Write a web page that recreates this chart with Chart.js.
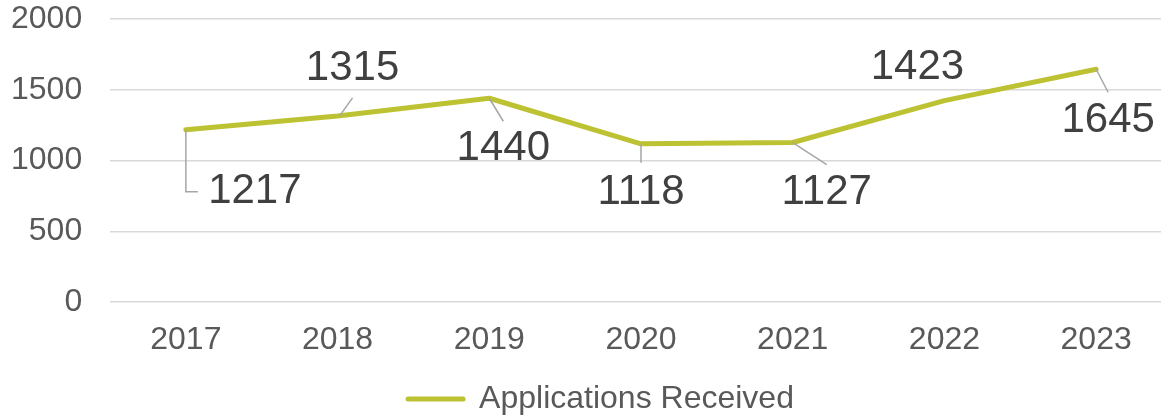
<!DOCTYPE html>
<html>
<head>
<meta charset="utf-8">
<script src="https://cdn.jsdelivr.net/npm/chart.js@4/dist/chart.umd.min.js"></script>
<style>
  html, body { margin: 0; padding: 0; background: #fff; overflow: hidden; width: 1161px; height: 417px; }
  #wrap { width: 1172px; height: 417px; }
</style>
</head>
<body>
<div id="wrap"><canvas id="c" width="1172" height="417"></canvas></div>
<script>
const categories = ['2017', '2018', '2019', '2020', '2021', '2022', '2023'];
const applicationsReceived = [1217, 1315, 1440, 1118, 1127, 1423, 1645];
const seriesName = 'Applications Received';
const yTicks = [0, 500, 1000, 1500, 2000];

const FONT = '"Liberation Sans", Arial, Helvetica, sans-serif';
const LINE_COLOR = '#BDC233';

// label placement style (offsets from each point, in px)
const labelStyle = [
  { dx: 69, dy: 62, leader: [[0, 0], [0, 62], [12, 62]] },
  { dx: 15, dy: -48, leader: [[2, 0], [15, -18]] },
  { dx: 14, dy: 50, leader: [[0, 0], [14, 23]] },
  { dx: 0, dy: 49, leader: [[0, 0], [0, 19]] },
  { dx: 34, dy: 50, leader: [[0, 0], [34, 22]] },
  { dx: -27, dy: -33, leader: null },
  { dx: 12, dy: 51, leader: [[0, 0], [12, 23]] }
];

const dataLabelPlugin = {
  id: 'dataLabels',
  afterDatasetsDraw(chart) {
    const ctx = chart.ctx;
    const meta = chart.getDatasetMeta(0);
    const vals = chart.data.datasets[0].data;
    ctx.save();
    meta.data.forEach((pt, i) => {
      const s = labelStyle[i];
      if (s.leader) {
        ctx.beginPath();
        ctx.strokeStyle = '#A6A6A6';
        ctx.lineWidth = 1.5;
        s.leader.forEach((p, j) => {
          if (j === 0) ctx.moveTo(pt.x + p[0], pt.y + p[1]);
          else ctx.lineTo(pt.x + p[0], pt.y + p[1]);
        });
        ctx.stroke();
      }
      ctx.fillStyle = '#404040';
      ctx.font = '42px ' + FONT;
      ctx.textAlign = 'center';
      ctx.textBaseline = 'middle';
      ctx.fillText(String(vals[i]), pt.x + s.dx, pt.y + s.dy);
    });
    ctx.restore();
  }
};

new Chart(document.getElementById('c'), {
  type: 'line',
  data: {
    labels: categories,
    datasets: [{
      label: seriesName,
      data: applicationsReceived,
      borderColor: LINE_COLOR,
      backgroundColor: LINE_COLOR,
      borderWidth: 5,
      borderCapStyle: 'round',
      borderJoinStyle: 'round',
      pointRadius: 0,
      pointHoverRadius: 0,
      tension: 0,
      fill: false
    }]
  },
  options: {
    responsive: false,
    devicePixelRatio: 1,
    animation: false,
    events: [],
    layout: { padding: { top: 19, right: 0, bottom: -8, left: 30 } },
    scales: {
      x: {
        offset: true,
        grid: { display: false, drawTicks: false },
        border: { display: false },
        afterFit(scale) { scale.height = 81; scale.paddingLeft = 0; scale.paddingRight = 0; },
        ticks: { color: '#595959', font: { family: FONT, size: 32 }, padding: 19 }
      },
      y: {
        min: 0,
        max: 2000,
        afterBuildTicks(scale) { scale.ticks = yTicks.map(v => ({ value: v })); },
        afterFit(scale) { scale.width = 80; scale.paddingTop = 0; scale.paddingBottom = 0; },
        grid: { color: '#D9D9D9', lineWidth: 1.5, drawTicks: false },
        border: { display: false },
        ticks: {
          color: '#595959', font: { family: FONT, size: 32 },
          mirror: true, crossAlign: 'far', padding: -99,
          callback: v => String(v)
        }
      }
    },
    plugins: {
      tooltip: { enabled: false },
      legend: {
        position: 'bottom',
        labels: {
          color: '#595959',
          font: { family: FONT, size: 32 },
          usePointStyle: true,
          pointStyle: 'line',
          pointStyleWidth: 55,
          padding: 0,
          generateLabels(chart) {
            return chart.data.datasets.map((d, i) => ({
              text: d.label,
              fillStyle: d.borderColor,
              strokeStyle: d.borderColor,
              lineWidth: 5,
              lineCap: 'round',
              pointStyle: 'line',
              datasetIndex: i,
              fontColor: '#595959'
            }));
          }
        }
      }
    }
  },
  plugins: [dataLabelPlugin]
});
</script>
</body>
</html>
